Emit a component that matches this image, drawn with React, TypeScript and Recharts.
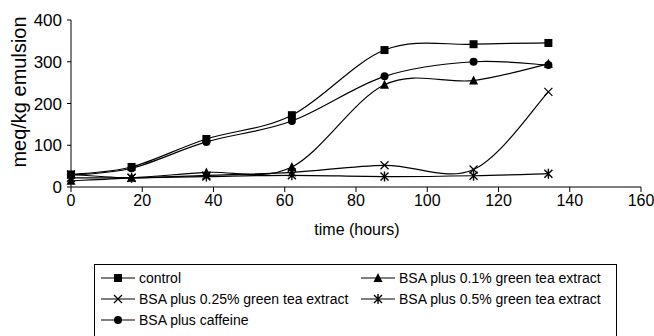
import { LineChart, Line, XAxis, YAxis } from 'recharts'

const hours = [0, 17, 38, 62, 88, 113, 134]
const control = [30, 48, 115, 172, 328, 342, 345]
const tea01 = [15, 22, 35, 48, 245, 255, 295]
const tea025 = [30, 22, 28, 35, 52, 42, 228]
const tea05 = [22, 22, 25, 28, 25, 27, 32]
const caffeine = [28, 45, 108, 158, 265, 300, 292]

const yTicks = [0, 50, 100, 150, 200, 250, 300, 350, 400]
const xTicks = [0, 20, 40, 60, 80, 100, 120, 140, 160]

const seriesNames = {
  control: 'control',
  tea01: 'BSA plus 0.1% green tea extract',
  tea025: 'BSA plus 0.25% green tea extract',
  tea05: 'BSA plus 0.5% green tea extract',
  caffeine: 'BSA plus caffeine',
}

const data = hours.map((h, i) => ({
  h,
  control: control[i],
  tea01: tea01[i],
  tea025: tea025[i],
  tea05: tea05[i],
  caffeine: caffeine[i],
}))

const FONT = '"Liberation Sans", Arial, sans-serif'

// excel-ish smoothed line (catmull-rom through the points)
function smoothCurve(context: any) {
  let pts: number[][] = []
  return {
    areaStart() {},
    areaEnd() {},
    lineStart() { pts = [] },
    point(x: number, y: number) { pts.push([+x, +y]) },
    lineEnd() {
      if (!pts.length) return
      context.moveTo(pts[0][0], pts[0][1])
      for (let i = 0; i < pts.length - 1; i++) {
        const p0 = pts[i - 1] || pts[i]
        const p1 = pts[i]
        const p2 = pts[i + 1]
        const p3 = pts[i + 2] || p2
        context.bezierCurveTo(
          p1[0] + (p2[0] - p0[0]) / 6, p1[1] + (p2[1] - p0[1]) / 6,
          p2[0] - (p3[0] - p1[0]) / 6, p2[1] - (p3[1] - p1[1]) / 6,
          p2[0], p2[1]
        )
      }
    },
  }
}

type Shape = 'square' | 'triangle' | 'cross' | 'star' | 'circle'

function Marker({ shape, cx, cy }: { shape: Shape; cx: number; cy: number }) {
  if (shape === 'square') return <rect x={cx - 4} y={cy - 4} width={8} height={8} fill="#000" />
  if (shape === 'circle') return <circle cx={cx} cy={cy} r={4} fill="#000" />
  if (shape === 'triangle')
    return <path d={`M${cx},${cy - 5}L${cx + 4.5},${cy + 4}L${cx - 4.5},${cy + 4}Z`} fill="#000" />
  const d = `M${cx - 4},${cy - 4}L${cx + 4},${cy + 4}M${cx - 4},${cy + 4}L${cx + 4},${cy - 4}`
  if (shape === 'cross') return <path d={d} stroke="#000" strokeWidth={1.2} fill="none" />
  return <path d={`${d}M${cx},${cy - 5}L${cx},${cy + 5}`} stroke="#000" strokeWidth={1.4} fill="none" />
}

const dot = (shape: Shape) => (p: any) => (
  <Marker key={`${shape}-${p.index}`} shape={shape} cx={p.cx} cy={p.cy} />
)

const series: { key: keyof typeof seriesNames; shape: Shape }[] = [
  { key: 'control', shape: 'square' },
  { key: 'tea01', shape: 'triangle' },
  { key: 'tea025', shape: 'cross' },
  { key: 'tea05', shape: 'star' },
  { key: 'caffeine', shape: 'circle' },
]

function LegendBox() {
  return (
    <div
      style={{
        position: 'absolute', left: 94, top: 264, width: 521, height: 90,
        border: '1px solid #000', fontFamily: FONT, fontSize: 14, color: '#000',
      }}
    >
      {series.map((s, i) => (
        <div
          key={s.key}
          style={{
            position: 'absolute',
            left: i % 2 === 0 ? 6 : 266,
            top: 3 + Math.floor(i / 2) * 21,
            display: 'flex', alignItems: 'center', height: 20, whiteSpace: 'nowrap',
          }}
        >
          <svg width={34} height={12} style={{ marginRight: 4 }}>
            <line x1={0} y1={6} x2={34} y2={6} stroke="#000" strokeWidth={1.2} />
            <Marker shape={s.shape} cx={17} cy={6} />
          </svg>
          <span>{seriesNames[s.key]}</span>
        </div>
      ))}
    </div>
  )
}

export default function App() {
  return (
    <div style={{ position: 'absolute', left: 0, top: 0, width: 654, height: 336, background: '#fff', overflow: 'hidden' }}>
      <LineChart width={654} height={336} data={data} margin={{ top: 20, right: 13, left: 0, bottom: 99 }}>
        <XAxis
          dataKey="h"
          type="number"
          domain={[0, 160]}
          ticks={xTicks}
          height={50}
          tickSize={5}
          tickMargin={3}
          stroke="#000"
          tick={{ fill: '#000', fontSize: 16, fontFamily: FONT }}
          label={{
            content: () => (
              <text x={357} y={235} textAnchor="middle" fontSize={16} fontFamily={FONT} fill="#000">
                time (hours)
              </text>
            ),
          }}
        />
        <YAxis
          domain={[0, 400]}
          ticks={yTicks}
          width={71}
          tickSize={4}
          tickMargin={5}
          stroke="#000"
          tick={{ fill: '#000', fontSize: 17, fontFamily: FONT }}
          label={{
            content: () => (
              <text
                x={19}
                y={92}
                transform="rotate(-90 19 92)"
                textAnchor="middle"
                dominantBaseline="central"
                fontSize={20}
                fontFamily={FONT}
                fill="#000"
              >
                meq/kg emulsion
              </text>
            ),
          }}
        />
        {series.map((s) => (
          <Line
            key={s.key}
            dataKey={s.key}
            name={seriesNames[s.key]}
            type={smoothCurve as any}
            stroke="#000"
            strokeWidth={1.2}
            dot={dot(s.shape)}
            activeDot={false}
            isAnimationActive={false}
          />
        ))}
      </LineChart>
      <LegendBox />
    </div>
  )
}
